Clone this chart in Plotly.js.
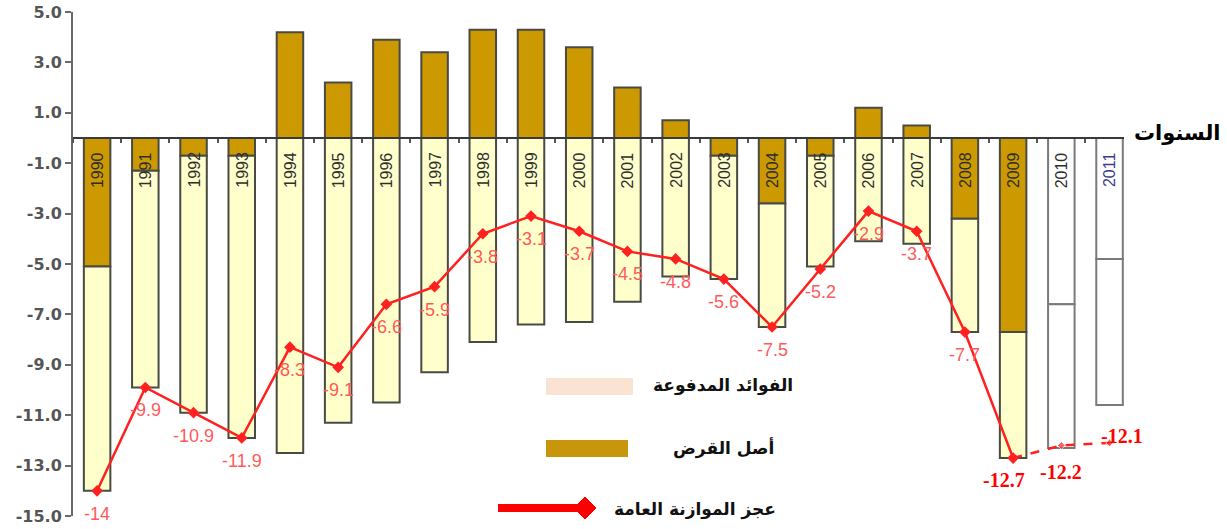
<!DOCTYPE html>
<html>
<head>
<meta charset="utf-8">
<script src="https://cdn.plot.ly/plotly-3.0.1.min.js"></script>
<style>
  html, body { margin: 0; padding: 0; background: #ffffff; }
  #chart { width: 1227px; height: 529px; }
</style>
</head>
<body>
<div id="chart"></div>
<script>
// Years on the category axis
const years = ["1990","1991","1992","1993","1994","1995","1996","1997","1998","1999","2000",
               "2001","2002","2003","2004","2005","2006","2007","2008","2009","2010","2011"];

// Loan principal (أصل القرض), billions
const principal = [-5.1, -1.3, -0.7, -0.7, 4.2, 2.2, 3.9, 3.4, 4.3, 4.3, 3.6,
                   2.0, 0.7, -0.7, -2.6, -0.7, 1.2, 0.5, -3.2, -7.7, -6.6, -4.8];

// Interest paid (الفوائد المدفوعة), billions
const interest = [-8.9, -8.6, -10.2, -11.2, -12.5, -11.3, -10.5, -9.3, -8.1, -7.4, -7.3,
                  -6.5, -5.5, -4.9, -4.9, -4.4, -4.1, -4.2, -4.5, -5.0, -5.7, -5.8];

// General budget deficit (عجز الموازنة العامة)
const deficit = [-14, -9.9, -10.9, -11.9, -8.3, -9.1, -6.6, -5.9, -3.8, -3.1, -3.7,
                 -4.5, -4.8, -5.6, -7.5, -5.2, -2.9, -3.7, -7.7, -12.7, -12.2, -12.1];

// Y tick values
const yTicks = [5, 3, 1, -1, -3, -5, -7, -9, -11, -13, -15];

// Legend and axis captions
const seriesNames = ["الفوائد المدفوعة", "أصل القرض", "عجز الموازنة العامة"];
const xCaption = "السنوات";

// Years from this index on are projections (outlined bars, dashed line)
const projStart = 20;

const BROWN = "#cc9900";
const CREAM = "#ffffcc";
const RED = "#ff2020";

const brownColors = years.map((_, i) => i >= projStart ? "#ffffff" : BROWN);
const creamColors = years.map((_, i) => i >= projStart ? "#ffffff" : CREAM);
const edgeColors = years.map((_, i) => i >= projStart ? "#7a7a7a" : "#4a4a44");

const traces = [
  {
    type: "bar", x: years, y: principal, name: seriesNames[1],
    marker: { color: brownColors, line: { color: edgeColors, width: 2 } },
    hoverinfo: "x+y"
  },
  {
    type: "bar", x: years, y: interest, name: seriesNames[0],
    marker: { color: creamColors, line: { color: edgeColors, width: 2 } },
    hoverinfo: "x+y"
  },
  {
    type: "scatter", mode: "lines+markers", name: seriesNames[2],
    x: years.slice(0, projStart), y: deficit.slice(0, projStart),
    line: { color: RED, width: 2.5 },
    marker: { symbol: "diamond", size: 9, color: RED }
  },
  {
    type: "scatter", mode: "lines+markers", showlegend: false,
    x: years.slice(projStart - 1), y: deficit.slice(projStart - 1),
    line: { color: RED, width: 2.5, dash: "dash" },
    marker: { symbol: "diamond", size: [0, 6, 6], color: RED }
  }
];

// Plot-area geometry (pixels) for placing the legend block
const M = { l: 73, r: 103, t: 12, b: 13 };
const PW = 1227 - M.l - M.r, PH = 529 - M.t - M.b;
const fx = px => (px - M.l) / PW;
const fy = py => (M.t + PH - py) / PH;

const annotations = [];

// Year labels inside the bars, just below the zero line (x = category index)
years.forEach((yr, i) => {
  annotations.push({
    x: i, y: 0, xref: "x", yref: "y", text: yr, showarrow: false,
    textangle: -90, yanchor: "top", xanchor: "center", yshift: -12,
    font: { family: "Liberation Sans, Arial, sans-serif", size: 16,
            color: i === years.length - 1 ? "#3c3c8c" : "#2e2e2e" }
  });
});

// Deficit value labels
deficit.forEach((v, i) => {
  const proj = i >= projStart - 1;
  const shifts = proj
    ? [[-9, -22], [0, -27], [12, 7]][i - (projStart - 1)]
    : [0, -23];
  annotations.push({
    x: i, y: v, xref: "x", yref: "y", text: String(v), showarrow: false,
    xanchor: "center", yanchor: "middle", xshift: shifts[0], yshift: shifts[1],
    font: proj
      ? { family: "Liberation Serif, Times New Roman, serif", size: 20, color: "#ff0000", weight: "bold" }
      : { family: "Liberation Sans, Arial, sans-serif", size: 18, color: "#ff5a5a" }
  });
});

// Axis caption on the right
annotations.push({
  xref: "paper", yref: "y", x: fx(1223), y: 0.2, xanchor: "right", yanchor: "middle",
  text: xCaption, showarrow: false,
  font: { family: "DejaVu Sans, sans-serif", size: 21, color: "#000000", weight: "bold" }
});

// Legend captions
const legendFont = { family: "DejaVu Sans, sans-serif", size: 17, color: "#111111", weight: "bold" };
[[seriesNames[0], 795, 385], [seriesNames[1], 776, 448], [seriesNames[2], 778, 509]].forEach(([t, px, py]) => {
  annotations.push({
    xref: "paper", yref: "paper", x: fx(px), y: fy(py), xanchor: "right", yanchor: "middle",
    text: t, showarrow: false, font: legendFont
  });
});

// Legend swatches
const dX = 11, dY = 11, cx = 585, cy = 508;
const diamondPath = `M ${fx(cx - dX)} ${fy(cy)} L ${fx(cx)} ${fy(cy - dY)} L ${fx(cx + dX)} ${fy(cy)} L ${fx(cx)} ${fy(cy + dY)} Z`;
const shapes = [
  { type: "rect", xref: "paper", yref: "paper", x0: fx(546), x1: fx(633), y0: fy(395), y1: fy(378),
    fillcolor: "#fbe3d4", line: { width: 0 } },
  { type: "rect", xref: "paper", yref: "paper", x0: fx(546), x1: fx(628), y0: fy(457), y1: fy(440),
    fillcolor: "#c8960c", line: { width: 0 } },
  { type: "line", xref: "paper", yref: "paper", x0: fx(498), x1: fx(580), y0: fy(cy), y1: fy(cy),
    line: { color: "#ff0000", width: 8 } },
  { type: "path", xref: "paper", yref: "paper", path: diamondPath,
    fillcolor: "#ff0000", line: { color: "#ff0000", width: 1 } }
];

const layout = {
  width: 1227, height: 529,
  margin: M,
  paper_bgcolor: "#ffffff", plot_bgcolor: "#ffffff",
  barmode: "relative", bargap: 0.45,
  showlegend: false,
  xaxis: {
    type: "category", range: [-0.5, 21.3],
    anchor: "free", position: 15 / 20,
    showline: true, linecolor: "#3a3a3a", linewidth: 2,
    ticks: "outside", tickson: "boundaries", ticklen: 4, tickwidth: 2, tickcolor: "#555555",
    showticklabels: false, showgrid: false, zeroline: false, fixedrange: true
  },
  yaxis: {
    range: [-15, 5],
    tickvals: yTicks, ticktext: yTicks.map(v => v.toFixed(1)),
    showline: true, linecolor: "#6a6a6a", linewidth: 2,
    ticks: "outside", ticklen: 6, tickwidth: 2, tickcolor: "#6a6a6a",
    tickfont: { family: "DejaVu Sans, Verdana, sans-serif", size: 16, color: "#555555", weight: "bold" },
    showgrid: false, zeroline: false, fixedrange: true
  },
  annotations: annotations,
  shapes: shapes
};

Plotly.newPlot("chart", traces, layout, { displayModeBar: false, staticPlot: true });
</script>
</body>
</html>
